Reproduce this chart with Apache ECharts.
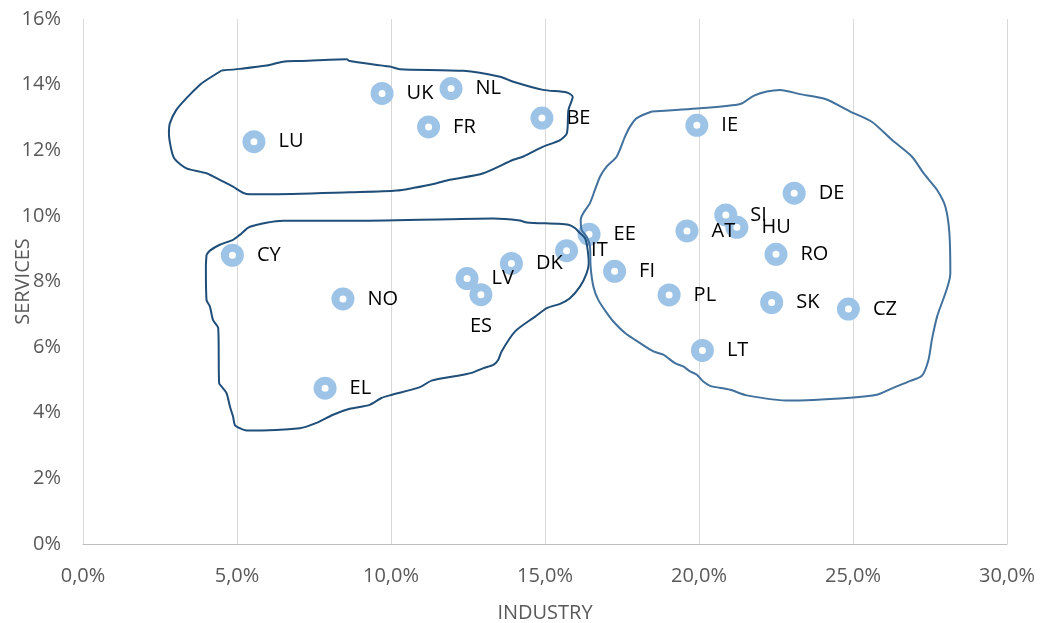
<!DOCTYPE html>
<html>
<head>
<meta charset="utf-8">
<script src="https://cdn.jsdelivr.net/npm/echarts@6/dist/echarts.min.js"></script>
<style>
html,body{margin:0;padding:0;background:#fff;}
#chart{width:1042px;height:623px;}
</style>
</head>
<body>
<div id="chart"></div>
<script>
// ---- data ----
const countries = ["LU","UK","NL","FR","BE","IE","DE","SI","HU","AT","EE","IT","DK","CY","RO","FI","LV","ES","NO","PL","SK","CZ","LT","EL"];
const industry  = [5.55, 9.71, 11.95, 11.22, 14.90, 19.93, 23.09, 20.87, 21.23, 19.61, 16.43, 15.70, 13.91, 4.85, 22.50, 17.26, 12.47, 12.92, 8.44, 19.03, 22.36, 24.85, 20.11, 7.86];
const services  = [12.26, 13.73, 13.88, 12.71, 12.98, 12.76, 10.69, 10.03, 9.65, 9.54, 9.44, 8.94, 8.55, 8.80, 8.83, 8.31, 8.09, 7.60, 7.47, 7.59, 7.36, 7.16, 5.90, 4.75];
const xTicks = [0, 5, 10, 15, 20, 25, 30];
const yTicks = [0, 2, 4, 6, 8, 10, 12, 14, 16];

// hand-drawn cluster outlines (industry %, services %)
const clusterNorthWest = [[4.50,14.43],[5.09,14.48],[5.96,14.58],[6.49,14.70],[7.04,14.72],[8.56,14.77],[8.66,14.72],[9.96,14.55],[10.29,14.47],[12.35,14.42],[13.54,14.24],[13.97,14.09],[14.94,13.84],[15.71,13.76],[15.90,13.63],[15.76,13.22],[15.71,12.52],[15.49,12.31],[14.94,12.11],[14.30,11.81],[13.97,11.71],[13.00,11.30],[11.91,11.10],[11.37,10.97],[10.18,10.77],[8.66,10.72],[5.96,10.66],[5.31,10.67],[4.87,10.89],[4.44,11.10],[4.01,11.30],[3.36,11.45],[2.98,11.73],[2.87,12.01],[2.79,12.52],[2.82,12.82],[3.03,13.23],[3.36,13.59],[3.79,13.99],[4.01,14.14],[4.50,14.43]];
const clusterSouthWest = [[4.01,8.81],[4.12,8.94],[4.44,9.12],[4.87,9.27],[5.09,9.42],[5.42,9.67],[6.50,9.85],[8.66,9.85],[11.91,9.90],[13.32,9.92],[14.18,9.86],[14.41,9.80],[15.38,9.76],[15.76,9.73],[15.97,9.63],[16.14,9.47],[16.30,9.32],[16.37,9.06],[16.42,8.56],[16.35,8.25],[16.14,7.85],[15.81,7.49],[15.49,7.32],[15.06,7.19],[14.68,6.93],[14.03,6.48],[13.59,5.87],[13.48,5.61],[13.32,5.46],[13.00,5.36],[12.67,5.23],[12.35,5.16],[11.32,4.98],[10.94,4.78],[9.96,4.53],[9.69,4.45],[9.31,4.24],[8.66,4.12],[8.12,3.94],[7.58,3.69],[7.04,3.53],[5.31,3.46],[5.09,3.53],[4.93,3.63],[4.87,3.89],[4.77,4.19],[4.66,4.60],[4.50,4.80],[4.42,4.90],[4.39,6.58],[4.22,6.83],[4.12,7.24],[4.01,7.44],[3.99,8.46],[4.01,8.81]];
const clusterEast = [[18.47,13.18],[20.04,13.28],[21.34,13.41],[21.77,13.66],[22.20,13.79],[22.63,13.84],[23.28,13.71],[24.10,13.56],[24.91,13.18],[25.61,12.87],[26.26,12.32],[26.91,11.81],[27.29,11.30],[27.73,10.79],[28.00,10.28],[28.13,9.47],[28.16,8.25],[27.73,6.93],[27.56,6.22],[27.45,5.61],[27.24,5.13],[26.86,4.97],[26.21,4.72],[25.78,4.55],[24.91,4.46],[22.96,4.37],[21.55,4.53],[21.01,4.70],[20.36,4.82],[20.14,4.95],[19.93,5.16],[19.71,5.26],[19.49,5.41],[19.22,5.51],[18.84,5.77],[18.52,5.87],[18.09,6.12],[17.60,6.43],[17.22,6.78],[17.00,7.05],[16.73,7.44],[16.57,7.85],[16.48,8.46],[16.46,9.06],[16.35,9.37],[16.19,9.57],[16.16,9.88],[16.24,10.08],[16.46,10.39],[16.62,10.79],[16.79,11.20],[17.00,11.50],[17.33,11.81],[17.60,12.42],[17.76,12.72],[17.98,12.98],[18.47,13.18]];

// ---- chart ----
const FONT = '"Open Sans", "Liberation Sans", sans-serif';
const points = countries.map((c, i) => {
  const d = { name: c, value: [industry[i], services[i]] };
  if (c === 'ES') {
    d.label = { position: 'bottom', distance: 10, offset: [16, 0] };
  }
  return d;
});

function outline(data, color) {
  return {
    type: 'line', data: data, smooth: 0.25, symbol: 'none', silent: true, z: 5,
    lineStyle: { color: color, width: 2 }
  };
}

const chart = echarts.init(document.getElementById('chart'), null, { renderer: 'canvas' });
chart.setOption({
  animation: false,
  backgroundColor: '#ffffff',
  grid: { left: 83, right: 35, top: 19, bottom: 79, containLabel: false, outerBoundsMode: 'none' },
  xAxis: {
    type: 'value', min: xTicks[0], max: xTicks[xTicks.length - 1], interval: 5,
    name: 'INDUSTRY', nameLocation: 'middle', nameGap: 59, nameMoveOverlap: false,
    nameTextStyle: { color: '#595959', fontSize: 20, fontFamily: FONT },
    axisLine: { show: true, lineStyle: { color: '#bfbfbf', width: 1 } },
    axisTick: { show: false },
    axisLabel: { color: '#595959', fontSize: 20, fontFamily: FONT, margin: 22,
      formatter: v => v.toFixed(1).replace('.', ',') + '%' },
    splitLine: { show: true, lineStyle: { color: '#d9d9d9', width: 1 } }
  },
  yAxis: {
    type: 'value', min: yTicks[0], max: yTicks[yTicks.length - 1], interval: 2,
    name: 'SERVICES', nameLocation: 'middle', nameGap: 50, nameMoveOverlap: false,
    nameTextStyle: { color: '#595959', fontSize: 20, fontFamily: FONT },
    axisLine: { show: false },
    axisTick: { show: false },
    axisLabel: { color: '#595959', fontSize: 20, fontFamily: FONT, margin: 22,
      formatter: v => v + '%' },
    splitLine: { show: false }
  },
  series: [
    {
      type: 'scatter', data: points, z: 3,
      symbol: 'circle', symbolSize: 15,
      itemStyle: { color: '#ffffff', borderColor: '#9dc3e6', borderWidth: 8, opacity: 1 },
      label: { show: true, position: 'right', distance: 13, formatter: p => p.name,
        color: '#000000', fontSize: 20, fontFamily: FONT, offset: [0, 3] },
      labelLayout: { hideOverlap: false }
    },
    outline(clusterNorthWest, '#1f4e79'),
    outline(clusterSouthWest, '#1f4e79'),
    outline(clusterEast, '#41719c')
  ]
});
</script>
</body>
</html>
